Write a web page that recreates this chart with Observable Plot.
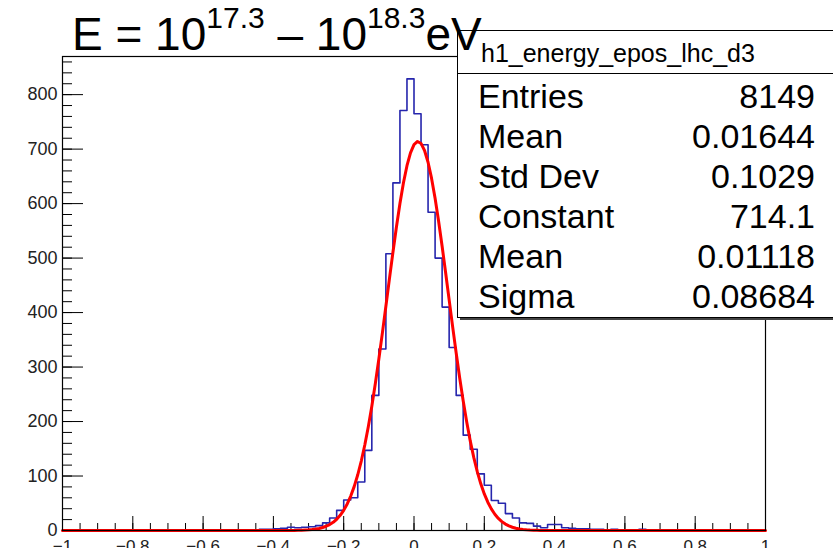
<!DOCTYPE html>
<html><head><meta charset="utf-8">
<script src="https://cdn.jsdelivr.net/npm/d3@7"></script>
<script src="https://cdn.jsdelivr.net/npm/@observablehq/plot@0.6"></script>
<style>
html,body{margin:0;padding:0;background:#fff;}
#wrap{width:833px;height:548px;overflow:hidden;}
</style></head>
<body><div id="wrap"></div>
<script>
// ---- data ----
const binStart = -1;
const binWidth = 0.02;
const counts = [
  0,0,0,0,0,0,0,0,0,0,
  0,0,0,0,0,1,0,0,0,0,
  0,1,0,0,1,1,1,1,2,2,
  3,4,6,5,6,7,9,14,23,37,
  56,60,89,147,248,333,508,638,771,829,
  765,708,584,500,410,336,248,175,149,104,
  83,55,50,31,23,14,13,8,5,11,
  11,5,4,3,3,2,2,1,2,1,
  1,1,2,1,0,1,0,1,0,0,
  1,0,0,0,0,0,0,0,0,0
];
const fitConstant = 714.1;
const fitMean = 0.01118;
const fitSigma = 0.08684;
const xMajorTicks = [-1,-0.8,-0.6,-0.4,-0.2,0,0.2,0.4,0.6,0.8,1];
const yMajorTicks = [0,100,200,300,400,500,600,700,800];
const statsHeader = "h1_energy_epos_lhc_d3";
const statsLabels = ["Entries","Mean","Std Dev","Constant","Mean","Sigma"];
const statsValues = ["8149","0.01644","0.1029","714.1","0.01118","0.08684"];

// ---- build tables ----
const hist = counts.map((c,i)=>({x: binStart + binWidth*i, y: c}));
hist.push({x: binStart + binWidth*counts.length, y: counts[counts.length-1]});
// fitted Gaussian, evaluated from the fit parameters shown in the stats box
const fit = d3.range(201).map(i=>{const x=-1+i*0.01; return {x, y: fitConstant*Math.exp(-0.5*((x-fitMean)/fitSigma)**2)};});
const xMinor = d3.range(-1, 1.0001, 0.05).map(v=>+v.toFixed(2));
const yMinor = d3.range(0, 870, 20);

const W=833, H=548, mL=62, mR=68, mT=56, mB=18;
const pw=W-mL-mR, ph=H-mT-mB;
const fmt = d => d===0 ? "0" : (d<0?"\u2212":"") + Math.abs(d);

const chart = Plot.plot({
  width: W, height: H,
  marginLeft: mL, marginRight: mR, marginTop: mT, marginBottom: mB,
  style: {fontFamily: "'Liberation Sans', Arial, Helvetica, sans-serif", background: "#fff", color: "#222", overflow: "visible"},
  x: {domain: [-1, 1], label: null},
  y: {domain: [0, 870], label: null},
  marks: [
    Plot.ruleX(xMinor, {x: d=>d, insetTop: ph-7, stroke: "#000", strokeWidth: 1}),
    Plot.ruleX(xMajorTicks, {x: d=>d, insetTop: ph-14, stroke: "#000", strokeWidth: 1}),
    Plot.ruleY(yMinor, {y: d=>d, insetRight: pw-10, stroke: "#000", strokeWidth: 1}),
    Plot.ruleY(yMajorTicks, {y: d=>d, insetRight: pw-21, stroke: "#000", strokeWidth: 1}),
    Plot.line(hist, {x: "x", y: "y", curve: "step-after", stroke: "#2626ad", strokeWidth: 1.6}),
    Plot.line(fit, {x: "x", y: "y", stroke: "#ff0000", strokeWidth: 3}),
    Plot.frame({stroke: "#000", strokeWidth: 1.2}),
    Plot.axisX(xMajorTicks, {tickSize: 0, tickPadding: 9, tickFormat: fmt, fontSize: 17, fill: "#222", label: null}),
    Plot.axisY(yMajorTicks, {tickSize: 0, tickPadding: 5, tickFormat: fmt, fontSize: 18, fill: "#222", label: null})
  ]
});
document.getElementById("wrap").appendChild(chart);

// ---- stats box & title ----
const svg = d3.select(chart);
const g = svg.append("g")
  .attr("font-family", "'Liberation Sans', Arial, Helvetica, sans-serif")
  .attr("text-anchor", "start");
g.append("rect").attr("x", 460).attr("y", 33).attr("width", 400).attr("height", 287).attr("fill", "#444");
g.append("rect").attr("x", 457.5).attr("y", 30.5).attr("width", 400).attr("height", 287).attr("fill", "#fff").attr("stroke", "#000").attr("stroke-width", 1);
g.append("line").attr("x1", 457.5).attr("x2", 833).attr("y1", 73.5).attr("y2", 73.5).attr("stroke", "#000");
g.append("text").attr("x", 481).attr("y", 62).attr("font-size", 25).attr("fill", "#000").text(statsHeader);
statsLabels.forEach((l,i)=>{
  const yb = 108 + i*40;
  g.append("text").attr("x", 478).attr("y", yb).attr("font-size", 34).attr("fill", "#000").text(l);
  g.append("text").attr("x", 815).attr("y", yb).attr("text-anchor", "end").attr("font-size", 34).attr("fill", "#000").text(statsValues[i]);
});
const t = g.append("text").attr("x", 72).attr("y", 50).attr("font-size", 46).attr("fill", "#000");
t.append("tspan").text("E = 10");
t.append("tspan").attr("font-size", 30).attr("dy", -22).text("17.3");
t.append("tspan").attr("font-size", 46).attr("dy", 22).text(" \u2013 10");
t.append("tspan").attr("font-size", 30).attr("dy", -22).text("18.3");
t.append("tspan").attr("font-size", 46).attr("dy", 22).text("eV");
</script>
</body></html>
